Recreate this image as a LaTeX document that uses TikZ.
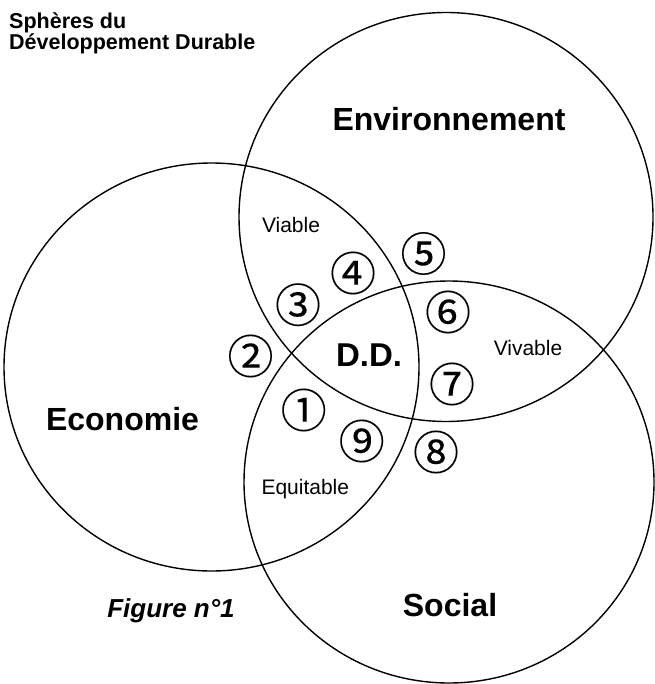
\documentclass[tikz,border=0pt]{standalone}
\usepackage{fontspec}
\setmainfont{Liberation Sans}
\newfontfamily\circfont[FakeBold=0.12]{Noto Sans CJK JP}
\begin{document}
\begin{tikzpicture}[x=1pt,y=-1pt,
  sphere/.style={line width=1.4pt},
  big/.style={font=\fontsize{32}{38}\selectfont\bfseries, inner sep=0pt, anchor=base},
  zone/.style={font=\fontsize{21}{25}\selectfont, inner sep=0pt, anchor=base},
  titletext/.style={font=\fontsize{21.5}{24}\selectfont\bfseries, inner sep=0pt, anchor=base west},
  num/.style={font=\circfont\fontsize{46}{46}\selectfont, inner sep=0pt, anchor=center}]
\useasboundingbox (0,0) rectangle (654,684);
\coordinate (cEco) at (211.5,367);
\coordinate (cEnv) at (446,217);
\coordinate (cSoc) at (449,482);
\draw[sphere] (cEco) ellipse [x radius=207.5pt, y radius=204pt];
\draw[sphere] (cEnv) ellipse [x radius=207pt, y radius=204.5pt];
\draw[sphere] (cSoc) ellipse [x radius=205pt, y radius=201pt];
% titles
\node[titletext] (t1) at (9,28.5) {Sphères du};
\node[titletext] (t2) at (9,50) {Développement Durable};
\node[big] (env) at (449,131) {Environnement};
\node[big] (eco) at (122.5,430) {Economie};
\node[big] (soc) at (450,616.7) {Social};
\node[big, font=\fontsize{33}{38}\selectfont\bfseries] (dd) at (369,366) {D.D.};
\node[font=\fontsize{26}{30}\selectfont\bfseries\itshape, inner sep=0pt, anchor=base] (fig) at (171,617) {Figure n°1};
\node[zone] (viable) at (291,233) {Viable};
\node[zone] (vivable) at (528,355.5) {Vivable};
\node[zone] (equit) at (305.3,494) {Equitable};
% circled numbers
\node[num] (n1) at (303.7,410) {①};
\node[num] (n2) at (250.5,356) {②};
\node[num] (n3) at (298,304.7) {③};
\node[num] (n4) at (353,273) {④};
\node[num] (n5) at (423.5,253.5) {⑤};
\node[num] (n6) at (448,312) {⑥};
\node[num] (n7) at (452,384) {⑦};
\node[num] (n8) at (436,452) {⑧};
\node[num] (n9) at (361.7,441) {⑨};
\end{tikzpicture}
\end{document}
